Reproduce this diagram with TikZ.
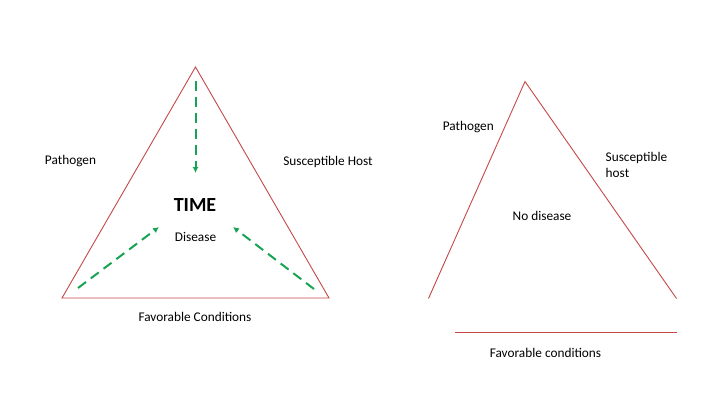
\documentclass[tikz,border=0pt]{standalone}
\usepackage{fontspec}
\setmainfont{Carlito}
\usetikzlibrary{arrows.meta}
\definecolor{sideRed}{RGB}{196,72,72}
\definecolor{timeGreen}{RGB}{24,163,84}
\begin{document}
\begin{tikzpicture}[x=1pt, y=-1pt,
	label/.style={inner sep=0pt, font=\fontsize{13.3}{16}\selectfont},
	side/.style={draw=sideRed, line width=0.9pt},
	flow/.style={draw=timeGreen, line width=2pt, dash pattern=on 10pt off 6pt, -{Latex[length=6pt,width=6pt]}}]
		\useasboundingbox (0,0) rectangle (720,405);
		
		%Corners of the first triangle
		\coordinate (apexA) at (195.5,67);
		\coordinate (leftA) at (62,298);
		\coordinate (rightA) at (329,298);
		
		%Ends of the time arrows
		\coordinate (topTail) at (195.5,81);
		\coordinate (topHead) at (195.5,173);
		\coordinate (leftTail) at (78,288);
		\coordinate (leftHead) at (159,227);
		\coordinate (rightTail) at (314,289);
		\coordinate (rightHead) at (233,227);
		
		%Names of the first triangle
		\node (pathogenA) at (70.5,161.5) [label]{Pathogen};
		\node (hostA) at (328,161.5) [label]{Susceptible Host};
		\node (time) at (195,205) [inner sep=0pt, font=\fontsize{20}{24}\selectfont\bfseries]{TIME};
		\node (disease) at (195.5,237) [label]{Disease};
		\node (conditionsA) at (195,317) [label]{Favorable Conditions};
		
		%Sides
		\draw[side] (apexA) -- (rightA) -- (leftA) -- cycle;
		
		%Links
		\draw[flow] (topTail) -- (topHead);
		\draw[flow] (leftTail) -- (leftHead);
		\draw[flow] (rightTail) -- (rightHead);
		
		%Second triangle, left open
		\coordinate (apexB) at (525,81.5);
		\coordinate (leftB) at (428.5,298.5);
		\coordinate (rightB) at (676.5,298.5);
		\coordinate (baseStart) at (454.5,332);
		\coordinate (baseEnd) at (676.5,332);
		
		\node (pathogenB) at (468.3,127.5) [label]{Pathogen};
		\node (hostB) at (605.5,164.5) [label, anchor=west, align=left]{Susceptible\\host};
		\node (noDisease) at (542,215.5) [label]{No disease};
		\node (conditionsB) at (545.5,353) [label]{Favorable conditions};
		
		\draw[side] (leftB) -- (apexB) -- (rightB);
		\draw[side] (baseStart) -- (baseEnd);
\end{tikzpicture}
\end{document}
